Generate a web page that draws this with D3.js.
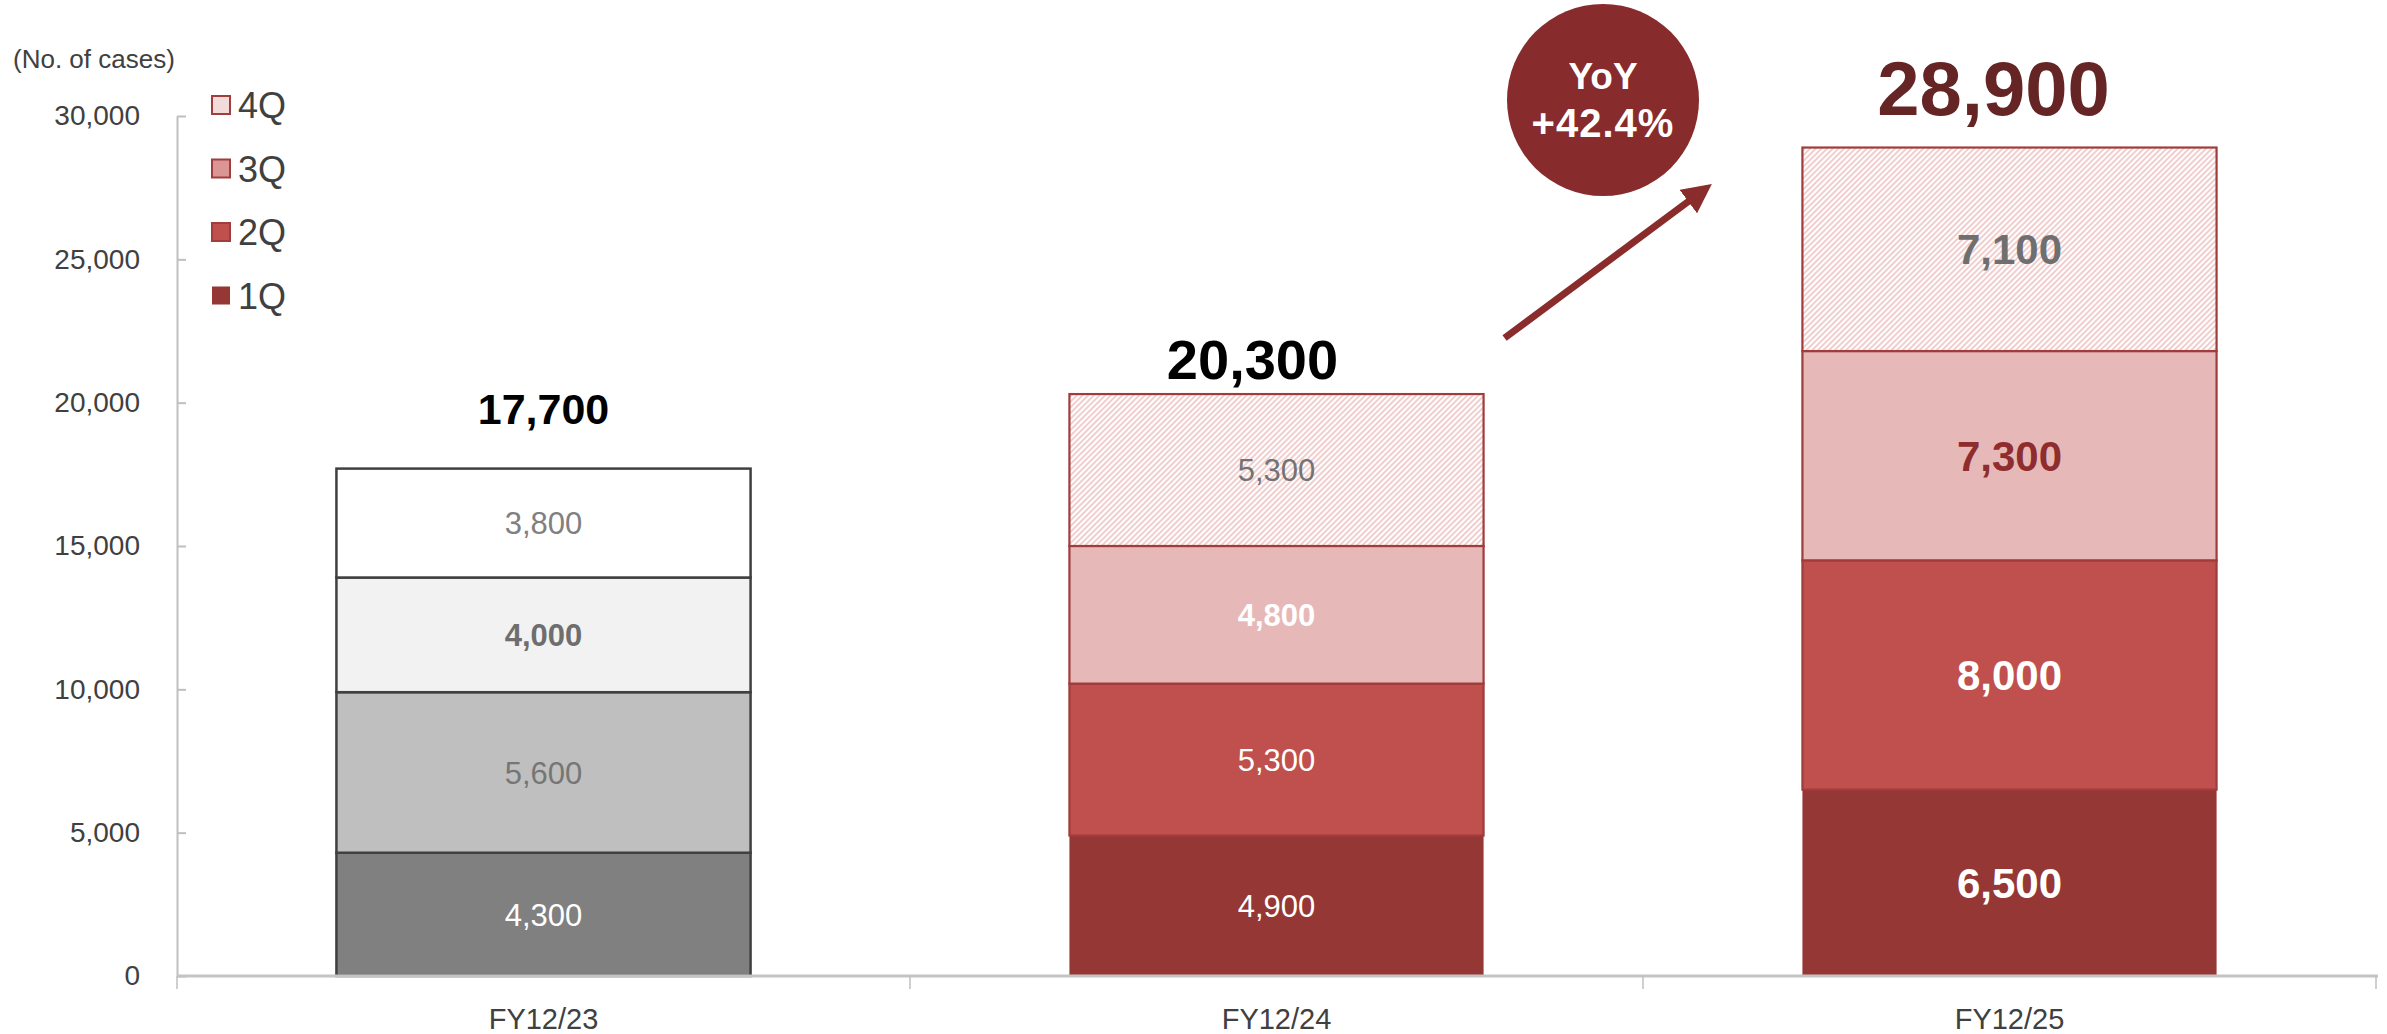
<!DOCTYPE html>
<html>
<head>
<meta charset="utf-8">
<script src="https://cdn.jsdelivr.net/npm/d3@7/dist/d3.min.js"></script>
<style>
  html, body { margin: 0; padding: 0; background: #ffffff; }
  svg { display: block; font-family: "Liberation Sans", Arial, sans-serif; }
</style>
</head>
<body>
<svg id="chart" width="2387" height="1034"></svg>
<script>
// Fiscal years on the x axis
const years = ["FY12/23", "FY12/24", "FY12/25"];
// Quarter series, stacked from the bottom
const quarters = ["1Q", "2Q", "3Q", "4Q"];
const q1 = [4300, 4900, 6500];
const q2 = [5600, 5300, 8000];
const q3 = [4000, 4800, 7300];
const q4 = [3800, 5300, 7100];
// Y axis ticks
const yTicks = [0, 5000, 10000, 15000, 20000, 25000, 30000];
const yTickLabels = ["0", "5,000", "10,000", "15,000", "20,000", "25,000", "30,000"];
// Year-on-year growth badge
const yoyTitle = "YoY";
const yoyValue = "+42.4%";
const unitLabel = "(No. of cases)";

const series = [q1, q2, q3, q4];

const svg = d3.select("#chart");
const plotLeft = 177, plotRight = 2376, plotTop = 116, plotBottom = 976;

const x = d3.scaleBand().domain(years).range([plotLeft, plotRight]).paddingInner(0.435).paddingOuter(0.2175);
const y = d3.scaleLinear().domain([0, 30000]).range([plotBottom, plotTop]);

// Fill styles: the first year is greyscale, later years are red tones
const greyFill = ["#808080", "#bfbfbf", "#f2f2f2", "#ffffff"];
const redFill = ["#953735", "#c0504d", "#e6b9b8", "url(#hatch)"];
const legendFill = ["#953735", "#c0504d", "#d99694", "#f2dcdb"];

const defs = svg.append("defs");
const pat = defs.append("pattern")
  .attr("id", "hatch").attr("patternUnits", "userSpaceOnUse")
  .attr("width", 4).attr("height", 4)
  .attr("patternTransform", "rotate(45)");
pat.append("rect").attr("width", 4).attr("height", 4).attr("fill", "#ffffff");
pat.append("line").attr("x1", 1).attr("y1", 0).attr("x2", 1).attr("y2", 4)
  .attr("stroke", "#efc6c6").attr("stroke-width", 1.7);

defs.append("marker")
  .attr("id", "arrowHead").attr("viewBox", "0 0 10 10")
  .attr("refX", 6).attr("refY", 5)
  .attr("markerWidth", 4.2).attr("markerHeight", 4.2)
  .attr("markerUnits", "strokeWidth")
  .attr("orient", "auto")
  .append("path").attr("d", "M0,0 L10,5 L0,10 Z").attr("fill", "#8a2c2c");

// Stacked data
const stacked = years.map((yr, i) => {
  let base = 0;
  return series.map((s, k) => {
    const seg = { year: yr, idx: i, q: k, y0: base, y1: base + s[i], v: s[i] };
    base += s[i];
    return seg;
  });
});
const totals = years.map((yr, i) => d3.sum(series, s => s[i]));

// Y axis
const yAxis = d3.axisLeft(y).tickValues(yTicks)
  .tickFormat((d, i) => yTickLabels[i])
  .tickSizeInner(-9).tickSizeOuter(0).tickPadding(37);
const gy = svg.append("g").attr("transform", `translate(${plotLeft},0)`).call(yAxis);
gy.select(".domain").attr("stroke", "#bfbfbf").attr("stroke-width", 2);
gy.selectAll(".tick line").attr("stroke", "#bfbfbf").attr("stroke-width", 2);
gy.selectAll(".tick text").attr("fill", "#404040").attr("font-size", 28)
  .attr("font-family", "Liberation Sans, Arial, sans-serif");

// Bars
const barG = svg.append("g");
stacked.forEach((segs, i) => {
  segs.forEach(seg => {
    const grey = i === 0;
    const r = barG.append("rect")
      .attr("x", x(seg.year))
      .attr("width", x.bandwidth())
      .attr("y", y(seg.y1))
      .attr("height", y(seg.y0) - y(seg.y1))
      .attr("fill", grey ? greyFill[seg.q] : redFill[seg.q]);
    if (grey) {
      r.attr("stroke", "#404040").attr("stroke-width", 2.5);
    } else if (seg.q > 0) {
      r.attr("stroke", "#a03c3c").attr("stroke-width", 2.2);
    }
  });
});

// X axis baseline and category separators
svg.append("line").attr("x1", plotLeft).attr("x2", plotRight + 2)
  .attr("y1", plotBottom).attr("y2", plotBottom)
  .attr("stroke", "#c4c4c4").attr("stroke-width", 3);
const sepX = [plotLeft].concat(years.slice(1).map(d => x(d) - (x.step() - x.bandwidth()) / 2)).concat([plotRight]);
svg.append("g").selectAll("line").data(sepX).join("line")
  .attr("x1", d => d).attr("x2", d => d)
  .attr("y1", plotBottom).attr("y2", plotBottom + 13)
  .attr("stroke", "#bfbfbf").attr("stroke-width", 1.5);

const xAxis = d3.axisBottom(x).tickSize(0).tickPadding(0);
const gx = svg.append("g").attr("transform", `translate(0,${plotBottom})`).call(xAxis);
gx.select(".domain").remove();
gx.selectAll(".tick text").attr("fill", "#404040").attr("font-size", 29)
  .attr("dy", null).attr("y", 53)
  .attr("font-family", "Liberation Sans, Arial, sans-serif");

// Segment value labels
const labelStyle = [
  // FY12/23
  [{ c: "#ffffff", w: 400, s: 31 }, { c: "#767676", w: 400, s: 31 }, { c: "#6e6e6e", w: 700, s: 31 }, { c: "#808080", w: 400, s: 31 }],
  // FY12/24
  [{ c: "#ffffff", w: 400, s: 31 }, { c: "#ffffff", w: 400, s: 31 }, { c: "#ffffff", w: 700, s: 31 }, { c: "#737373", w: 400, s: 31 }],
  // FY12/25
  [{ c: "#ffffff", w: 700, s: 42 }, { c: "#ffffff", w: 700, s: 42 }, { c: "#8e2c2e", w: 700, s: 42 }, { c: "#6f6f6f", w: 700, s: 42 }]
];
const fmt = d3.format(",");
stacked.forEach((segs, i) => {
  segs.forEach(seg => {
    const st = labelStyle[i][seg.q];
    svg.append("text")
      .attr("x", x(seg.year) + x.bandwidth() / 2)
      .attr("y", (y(seg.y0) + y(seg.y1)) / 2)
      .attr("dy", "0.36em")
      .attr("text-anchor", "middle")
      .attr("fill", st.c).attr("font-weight", st.w).attr("font-size", st.s)
      .text(fmt(seg.v));
  });
});

// Totals above bars
const totalStyle = [
  { c: "#000000", s: 43, gap: 45, dx: 0 },
  { c: "#000000", s: 56, gap: 15, dx: -24 },
  { c: "#662525", s: 76, gap: 33, dx: -16 }
];
years.forEach((yr, i) => {
  svg.append("text")
    .attr("x", x(yr) + x.bandwidth() / 2 + totalStyle[i].dx)
    .attr("y", y(totals[i]) - totalStyle[i].gap)
    .attr("text-anchor", "middle")
    .attr("fill", totalStyle[i].c).attr("font-weight", 700)
    .attr("font-size", totalStyle[i].s)
    .text(fmt(totals[i]));
});

// Unit label
svg.append("text").attr("x", 13).attr("y", 68)
  .attr("fill", "#404040").attr("font-size", 26).text(unitLabel);

// Legend (top entry is 4Q)
const legendQ = quarters.slice().reverse();
const lg = svg.append("g").attr("transform", "translate(211,95)");
legendQ.forEach((q, j) => {
  const k = quarters.indexOf(q);
  const row = lg.append("g").attr("transform", `translate(0,${j * 63.5})`);
  row.append("rect").attr("x", 1).attr("y", 1).attr("width", 18).attr("height", 18)
    .attr("fill", legendFill[k])
    .attr("stroke", k === 0 ? "none" : "#a23d3d").attr("stroke-width", 2);
  row.append("text").attr("x", 27).attr("y", 23)
    .attr("fill", "#404040").attr("font-size", 36).text(q);
});

// Growth arrow between the last two years
const arrowStart = [x(years[1]) + x.bandwidth() + 21, y(0) - 638];
const arrowEnd = [x(years[2]) - 100, y(0) - 785];
svg.append("line")
  .attr("x1", arrowStart[0]).attr("y1", arrowStart[1])
  .attr("x2", arrowEnd[0]).attr("y2", arrowEnd[1])
  .attr("stroke", "#8a2c2c").attr("stroke-width", 7)
  .attr("marker-end", "url(#arrowHead)");

// YoY badge
const badge = svg.append("g").attr("transform", "translate(1603,100)");
badge.append("circle").attr("r", 96).attr("fill", "#872b2d");
badge.append("text").attr("y", -11).attr("text-anchor", "middle")
  .attr("fill", "#ffffff").attr("font-weight", 700).attr("font-size", 37).text(yoyTitle);
badge.append("text").attr("y", 37).attr("text-anchor", "middle")
  .attr("fill", "#ffffff").attr("font-weight", 700).attr("font-size", 40)
  .attr("letter-spacing", 1).text(yoyValue);
</script>
</body>
</html>
